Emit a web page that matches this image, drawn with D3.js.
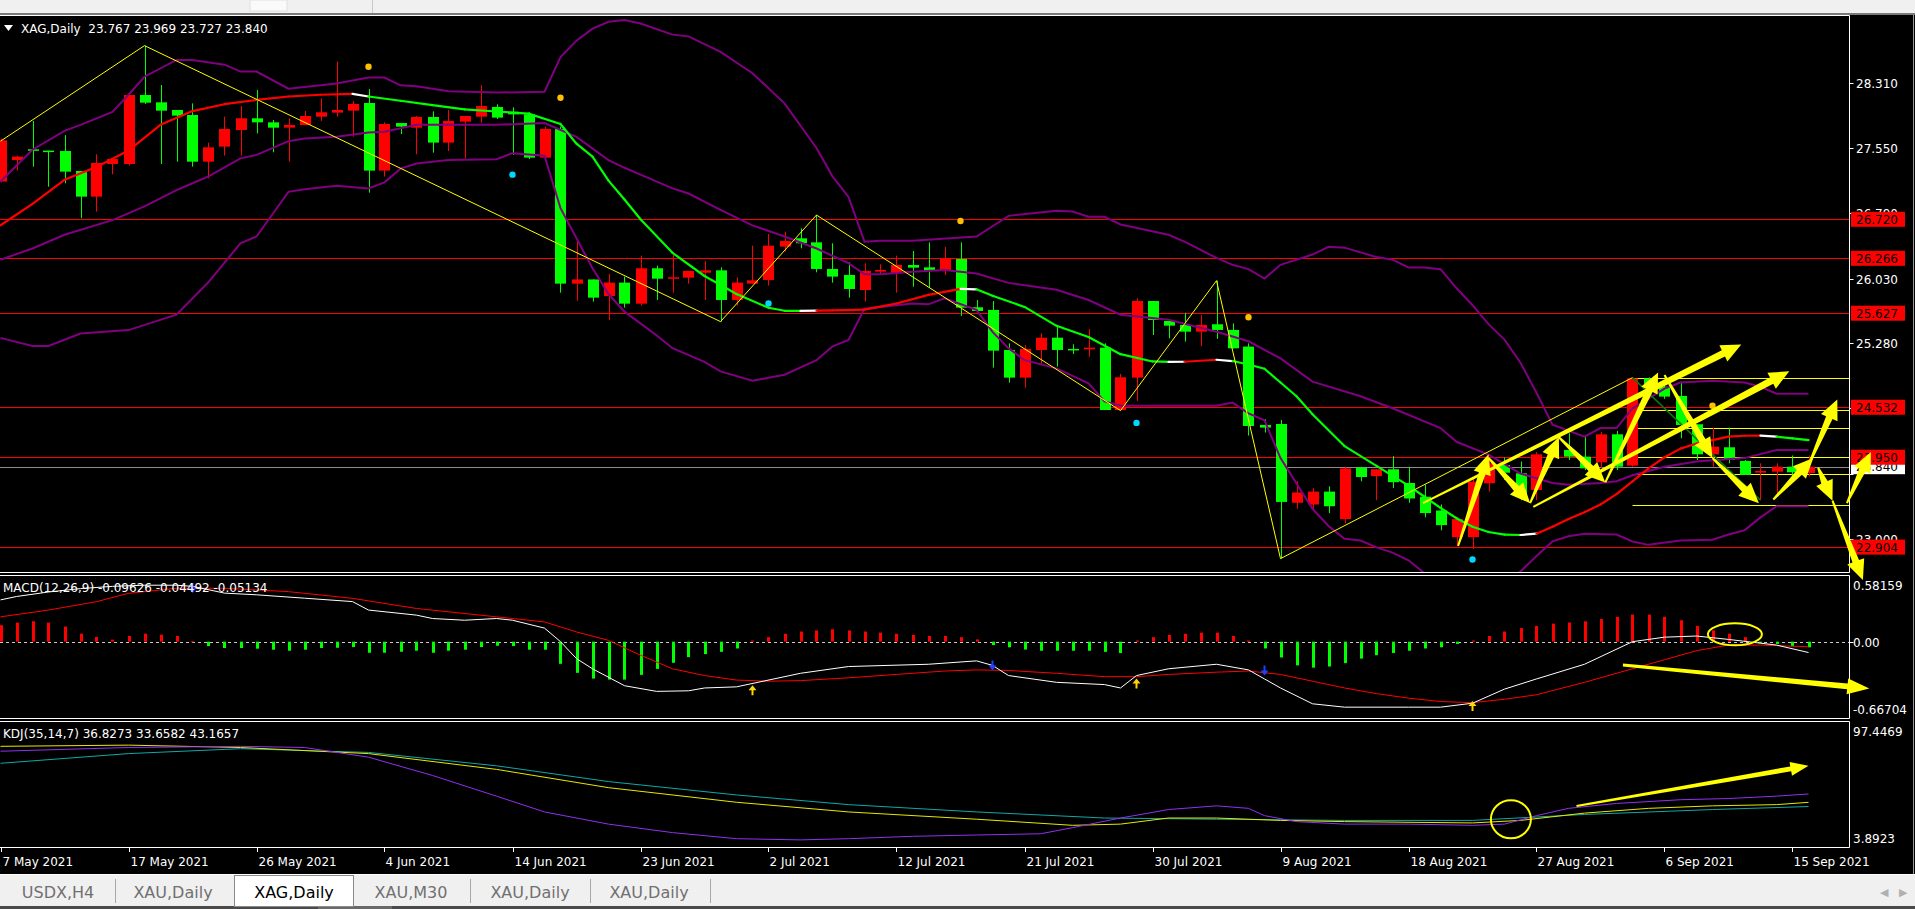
<!DOCTYPE html>
<html><head><meta charset="utf-8">
<script src="https://cdn.jsdelivr.net/npm/d3@7/dist/d3.min.js"></script>
<style>
html,body{margin:0;padding:0;background:#000;overflow:hidden}
svg{display:block}
text{font-family:"DejaVu Sans",Verdana,sans-serif}
</style></head><body>
<svg id="c" width="1915" height="909"></svg>
<script>
// ---------------- DATA ----------------
const dateLabels = ["7 May 2021","17 May 2021","26 May 2021","4 Jun 2021","14 Jun 2021","23 Jun 2021","2 Jul 2021","12 Jul 2021","21 Jul 2021","30 Jul 2021","9 Aug 2021","18 Aug 2021","27 Aug 2021","6 Sep 2021","15 Sep 2021"];
const dateLabelBars = [0,8,16,24,32,40,48,56,64,72,80,88,96,104,112];
const priceTicks = [28.310,27.550,26.790,26.030,25.280,24.520,23.760,23.000];
const hiddenTickLabels = [24.520,23.760];

const opens = [27.16,27.41,27.535,27.52,27.515,27.283,26.984,27.364,27.364,28.167,28.082,27.993,27.935,27.391,27.566,27.76,27.896,27.849,27.787,27.818,
27.915,27.962,27.985,28.074,27.287,27.841,27.787,27.911,27.613,27.857,27.915,28.028,27.973,27.942,27.438,27.772,25.971,26.02,25.827,25.983,
25.738,26.15,26.029,26.041,26.099,26.126,25.781,25.971,26.014,26.402,26.499,26.452,26.142,26.072,25.897,26.111,26.091,26.188,26.161,26.13,
26.258,25.696,25.665,25.199,24.877,25.199,25.342,25.211,25.207,25.226,24.50,24.877,25.769,25.537,25.49,25.412,25.498,25.432,25.238,24.326,
24.337,23.42,23.40,23.55,23.23,23.83,23.73,23.81,23.65,23.49,23.33,23.02,23.02,23.647,23.86,23.763,23.569,23.984,24.035,23.957,
23.891,24.217,23.852,24.869,24.772,24.664,24.334,23.984,24.066,23.907,23.771,23.782,23.84,23.767];
const highs = [27.66,27.46,27.865,27.52,27.70,27.283,27.477,27.422,28.17,28.742,28.284,27.993,28.07,27.612,27.915,28.039,28.226,27.876,27.896,27.981,
28.129,28.555,28.098,28.237,27.849,27.841,27.923,27.977,27.993,27.923,28.284,28.059,28.024,27.966,27.799,27.799,26.468,26.02,26.084,26.053,
26.297,26.181,26.305,26.119,26.235,26.161,26.045,26.413,26.549,26.577,26.615,26.77,26.441,26.219,26.208,26.196,26.297,26.351,26.452,26.398,
26.452,25.781,25.769,25.276,25.257,25.393,25.478,25.265,25.443,25.276,24.92,25.80,25.769,25.548,25.633,25.606,26.006,25.509,25.276,24.392,
24.384,23.67,23.59,23.61,23.84,23.84,23.81,23.965,23.84,23.63,23.40,23.25,23.72,23.942,23.946,23.90,24.01,24.08,24.229,24.20,
24.248,24.256,24.877,24.88,24.83,24.83,24.334,24.295,24.295,23.918,23.88,23.88,23.97,23.969];
const lows = [27.15,27.29,27.333,27.10,27.139,26.732,26.81,27.244,27.345,28.063,27.364,27.391,27.333,27.197,27.461,27.461,27.721,27.50,27.391,27.818,
27.865,27.915,27.682,27.03,27.217,27.713,27.477,27.496,27.515,27.43,27.845,27.888,27.469,27.422,27.438,25.866,25.773,25.762,25.548,25.692,
25.715,25.781,25.866,25.971,25.781,25.529,25.715,25.971,25.948,26.344,26.382,26.103,25.983,25.808,25.762,26.072,25.866,25.936,25.924,26.072,
25.595,25.653,24.993,24.819,24.76,25.024,25.005,25.152,25.121,24.50,24.493,24.605,25.373,25.335,25.296,25.245,25.327,25.218,24.202,24.237,
22.77,23.35,23.33,23.30,23.18,23.67,23.45,23.59,23.42,23.25,23.10,22.92,22.88,23.55,23.685,23.45,23.45,23.95,23.918,23.80,
23.821,23.80,23.84,24.78,24.63,24.171,23.918,23.84,23.88,23.744,23.45,23.50,23.70,23.727];
const closes = [27.64,27.45,27.519,27.508,27.275,26.984,27.376,27.422,28.167,28.078,27.985,27.927,27.391,27.558,27.772,27.896,27.849,27.787,27.818,27.923,
27.966,27.993,28.063,27.287,27.83,27.799,27.911,27.613,27.865,27.923,28.039,27.904,27.942,27.438,27.772,25.971,26.02,25.808,25.983,25.738,
26.15,26.029,26.045,26.119,26.126,25.781,25.983,26.01,26.413,26.468,26.441,26.142,26.053,25.909,26.119,26.13,26.188,26.157,26.119,26.262,
25.692,25.653,25.191,24.877,25.211,25.342,25.199,25.199,25.226,24.50,24.881,25.769,25.548,25.482,25.412,25.49,25.432,25.218,24.314,24.295,
23.43,23.54,23.55,23.38,23.82,23.72,23.81,23.66,23.47,23.30,23.16,23.23,23.666,23.88,23.77,23.51,23.984,24.062,23.957,23.821,
24.217,23.84,24.869,24.80,24.656,24.326,23.984,24.073,23.918,23.744,23.79,23.84,23.775,23.84];

// indicator readings: [bar, value]
const maLine = [[0,26.65],[2,26.90],[4,27.18],[6,27.33],[8,27.52],[10,27.82],[12,27.98],[14,28.06],[16,28.11],[18,28.15],[20,28.17],[22,28.18],[23,28.15],[25,28.10],[27,28.05],[29,28.00],[31,27.975],[33,27.95],[35,27.83],[36,27.60],[37,27.45],[38,27.17],[39,26.95],[40,26.72],[42,26.33],[44,26.06],[46,25.85],[48,25.69],[49,25.655],[50,25.654],[51,25.656],[52,25.66],[54,25.668],[56,25.74],[58,25.84],[60,25.91],[61,25.905],[62,25.83],[64,25.70],[66,25.48],[68,25.35],[70,25.15],[72,25.065],[73,25.06],[74,25.062],[76,25.085],[77,25.07],[78,25.03],[79,24.98],[80,24.82],[81,24.66],[82,24.45],[84,24.08],[86,23.85],[88,23.62],[89,23.49],[90,23.36],[91,23.24],[92,23.14],[93,23.08],[94,23.05],[95,23.045],[96,23.06],[97,23.14],[98,23.23],[99,23.31],[100,23.40],[101,23.52],[102,23.67],[103,23.82],[104,23.95],[105,24.05],[106,24.11],[107,24.15],[108,24.19],[109,24.20],[110,24.202],[111,24.19],[112,24.17],[113,24.15]];
const bbUpper = [[0,27.16],[2,27.53],[4,27.75],[5,27.82],[7,27.97],[8,28.17],[9,28.38],[11,28.575],[12,28.575],[14,28.52],[15,28.44],[16,28.44],[18,28.24],[19,28.26],[21,28.30],[23,28.37],[24,28.37],[25,28.28],[26,28.27],[28,28.21],[31,28.195],[34,28.206],[35,28.61],[36,28.80],[37,28.94],[38,29.02],[39,29.04],[40,29.0],[42,28.87],[43,28.85],[45,28.67],[47,28.42],[49,28.07],[51,27.55],[52,27.22],[53,26.98],[54,26.46],[55,26.47],[57,26.47],[61,26.52],[63,26.76],[66,26.82],[67,26.81],[68,26.75],[69,26.75],[70,26.66],[73,26.54],[74,26.46],[76,26.27],[77,26.19],[78,26.14],[79,26.03],[80,26.19],[82,26.31],[83,26.40],[84,26.39],[86,26.28],[87,26.25],[88,26.16],[89,26.16],[90,26.14],[91,25.92],[92,25.72],[93,25.50],[94,25.32],[95,25.05],[96,24.70],[97,24.33],[99,24.19],[100,24.29],[101,24.29],[102,24.52],[104,24.75],[105,24.82],[107,24.84],[109,24.82],[110,24.77],[111,24.69],[113,24.69]];
const bbMiddle = [[0,26.25],[2,26.38],[4,26.54],[7,26.71],[9,26.87],[11,27.06],[12,27.14],[13,27.22],[15,27.43],[16,27.47],[18,27.63],[19,27.66],[21,27.68],[23,27.73],[24,27.74],[26,27.82],[31,27.82],[34,27.84],[36,27.68],[38,27.41],[39,27.32],[40,27.24],[42,27.08],[43,27.02],[45,26.83],[47,26.65],[49,26.52],[51,26.38],[53,26.21],[54,26.08],[55,26.08],[57,26.11],[59,26.13],[61,26.09],[63,25.98],[66,25.90],[68,25.78],[70,25.61],[73,25.55],[76,25.41],[78,25.30],[80,25.10],[82,24.83],[85,24.66],[87,24.52],[90,24.29],[91,24.13],[93,23.98],[95,23.76],[97,23.65],[98,23.63],[100,23.65],[101,23.67],[102,23.74],[104,23.84],[106,23.90],[109,23.94],[111,24.035],[113,24.035]];
const bbLower = [[0,25.34],[2,25.245],[3,25.245],[5,25.39],[8,25.43],[11,25.61],[13,25.99],[15,26.44],[16,26.52],[18,27.04],[19,27.07],[21,27.11],[23,27.08],[24,27.15],[25,27.31],[26,27.37],[28,27.41],[31,27.42],[32,27.49],[34,27.46],[35,26.85],[36,26.50],[37,26.15],[38,25.85],[39,25.645],[41,25.37],[42,25.22],[44,25.06],[45,24.95],[47,24.84],[49,24.91],[51,25.08],[52,25.24],[53,25.315],[54,25.68],[57,25.74],[58,25.73],[59,25.80],[61,25.665],[62,25.41],[63,25.22],[64,25.08],[66,24.985],[68,24.81],[69,24.60],[70,24.55],[76,24.55],[77,24.586],[78,24.46],[79,24.38],[80,23.94],[82,23.35],[83,23.15],[84,23.0],[85,22.98],[86,22.90],[87,22.84],[88,22.75],[89,22.60],[90,22.45],[91,22.38],[92,22.35],[93,22.40],[94,22.50],[95,22.62],[96,22.80],[97,22.97],[98,23.03],[99,23.06],[101,23.05],[102,22.97],[103,22.93],[105,22.98],[107,22.99],[108,23.05],[109,23.10],[110,23.25],[111,23.38],[113,23.38]];
const zigzag = [[0,27.63],[9,28.742],[45,25.529],[51,26.77],[70,24.493],[76,26.006],[80,22.77],[102,24.877]];
const zigzagLast = [[102,24.877],[110,23.45]];
const fractalUp = [[23,28.496],[35,28.135],[60,26.70],[78,25.58],[107,24.55]];
const fractalDown = [[32,27.24],[48,25.74],[71,24.35],[92,22.76]];
const redLevels = [26.720,26.266,25.627,24.532,23.950,22.904];
const yellowLevels = [24.873,24.50,24.29,23.95,23.76,23.39];
const yellowLevelStart = 102;
const currentPrice = 23.840;

const macdHist = [0.146,0.169,0.181,0.169,0.134,0.071,0.042,0.018,0.05,0.071,0.062,0.05,0.003,-0.039,-0.056,-0.056,-0.062,-0.071,-0.08,-0.071,
-0.056,-0.054,-0.048,-0.098,-0.098,-0.089,-0.08,-0.098,-0.08,-0.071,-0.048,-0.036,-0.039,-0.071,-0.071,-0.196,-0.276,-0.327,-0.336,-0.336,
-0.294,-0.241,-0.187,-0.137,-0.11,-0.09,-0.06,0.01,0.04,0.07,0.09,0.10,0.11,0.10,0.09,0.08,0.07,0.06,0.05,0.05,
0.04,0.02,-0.03,-0.05,-0.07,-0.08,-0.08,-0.08,-0.08,-0.09,-0.10,0.01,0.04,0.06,0.07,0.08,0.08,0.05,0.01,-0.06,
-0.14,-0.21,-0.23,-0.22,-0.19,-0.15,-0.12,-0.10,-0.08,-0.06,-0.05,-0.02,0.01,0.05,0.09,0.12,0.14,0.16,0.17,0.18,
0.20,0.22,0.24,0.24,0.22,0.19,0.14,0.10,0.07,0.04,-0.01,-0.02,-0.04,-0.05];
const macdDif = [[0,0.37],[1,0.40],[3,0.44],[5,0.47],[7,0.49],[9,0.50],[11,0.50],[12,0.49],[14,0.43],[16,0.415],[19,0.385],[22,0.355],[23,0.28],[26,0.235],[27,0.205],[29,0.19],[31,0.205],[32,0.19],[34,0.12],[35,0.0],[36,-0.15],[37,-0.24],[39,-0.39],[41,-0.44],[43,-0.435],[44,-0.41],[46,-0.40],[50,-0.28],[53,-0.22],[58,-0.20],[61,-0.17],[62,-0.21],[63,-0.30],[66,-0.36],[69,-0.38],[70,-0.41],[71,-0.30],[73,-0.24],[76,-0.20],[78,-0.25],[79,-0.33],[80,-0.41],[82,-0.55],[84,-0.58],[88,-0.58],[90,-0.58],[92,-0.545],[94,-0.42],[96,-0.33],[99,-0.20],[102,0.0],[104,0.04],[106,0.05],[108,0.02],[111,-0.03],[113,-0.096]];
const macdDea = [[0,0.22],[3,0.28],[6,0.354],[8,0.428],[11,0.473],[14,0.473],[18,0.443],[22,0.384],[26,0.294],[31,0.22],[34,0.175],[36,0.086],[38,0.012],[40,-0.12],[42,-0.24],[44,-0.30],[46,-0.34],[48,-0.35],[50,-0.345],[53,-0.32],[56,-0.29],[59,-0.26],[61,-0.25],[63,-0.255],[66,-0.28],[69,-0.31],[71,-0.31],[73,-0.29],[76,-0.27],[78,-0.26],[80,-0.29],[82,-0.35],[84,-0.41],[86,-0.46],[88,-0.50],[90,-0.53],[92,-0.54],[94,-0.51],[96,-0.47],[99,-0.36],[102,-0.24],[104,-0.16],[106,-0.08],[108,-0.03],[110,-0.03],[113,-0.045]];
const macdUpMarks = [[47,-0.43],[71,-0.37],[92,-0.57]];
const macdDownMarks = [[12,0.475],[62,-0.21],[79,-0.255]];

const kdjK = [[0,79.1],[8,80.0],[15,78.2],[23,73.6],[31,61.7],[38,47.9],[46,36.9],[53,29.6],[61,24.1],[67,19.5],[70,20.4],[73,25.0],[76,25.0],[80,23.2],[84,22.3],[92,21.3],[95,23.2],[99,28.7],[103,32.3],[107,34.2],[111,35.1],[113,36.83]];
const kdjD = [[0,66.3],[8,73.6],[15,77.3],[23,74.5],[31,64.4],[38,52.5],[46,42.4],[53,35.1],[61,29.6],[69,25.0],[76,24.1],[84,23.2],[92,23.2],[99,27.7],[107,31.4],[113,33.66]];
const kdjJ = [[0,75.4],[8,78.2],[15,79.1],[19,78.2],[23,70.9],[27,57.1],[31,41.5],[34,29.6],[38,20.4],[42,14.0],[46,9.4],[50,8.5],[53,9.4],[57,11.2],[61,12.2],[65,13.1],[67,17.7],[70,25.0],[73,31.4],[76,34.2],[78,32.3],[79,26.8],[81,22.3],[84,20.4],[88,20.4],[92,19.5],[94,20.4],[96,26.8],[98,32.3],[101,36.0],[105,38.8],[108,39.7],[111,41.5],[113,43.17]];

// hand-drawn annotations (bar, price) pairs
const priceArrows = [
 [[88.9,23.415],[108.8,25.264]],
 [[95.8,23.373],[111.8,24.95]],
 [[91.1,22.917],[93.0,23.984]],
 [[93.0,23.941],[95.6,23.415]],
 [[95.6,23.415],[97.4,24.183]],
 [[97.4,24.183],[100.3,23.657]],
 [[100.3,23.657],[103.6,24.937]],
 [[104.0,24.908],[107.0,23.941]],
 [[107.0,23.941],[109.9,23.415]],
 [[110.8,23.458],[113.3,23.941]],
 [[113.0,23.856],[114.8,24.624]],
 [[113.6,23.828],[114.5,23.444]],
 [[114.5,23.444],[116.4,22.52]],
 [[115.4,23.415],[116.9,24.012]]
];
const macdArrow = [[101.4,-0.207],[116.8,-0.414]];
const kdjArrow = [[98.5,34.17],[113.0,64.4]];
const macdEllipse = [108.4,0.065];
const kdjEllipse = [94.4,24.1];
const tabNames = ["USDX,H4","XAU,Daily","XAG,Daily","XAU,M30","XAU,Daily","XAU,Daily"];

// ---------------- DRAW ----------------
const svg = d3.select('#c');
const R = 1849.5;
const x = d3.scaleLinear().domain([0,113]).range([0.5,1808.5]);
const yP = d3.scaleLinear().domain([22.614,29.087]).range([572,16]);
const yM = d3.scaleLinear().domain([-0.66704,0.58159]).range([717,576]);
const yK = d3.scaleLinear().domain([3.8923,97.4469]).range([846,722]);

svg.append('rect').attr('width',1915).attr('height',909).attr('fill','#000');
// top bar
svg.append('rect').attr('width',1915).attr('height',13).attr('fill','#f0f0f0');
svg.append('rect').attr('x',250).attr('y',0).attr('width',37).attr('height',11).attr('fill','#fafafa').attr('stroke','#e0e0e0');
svg.append('line').attr('x1',372.5).attr('x2',372.5).attr('y1',0).attr('y2',13).attr('stroke','#c8c8c8');
svg.append('rect').attr('y',13).attr('width',1915).attr('height',2).attr('fill','#7a7a7a');

const defs = svg.append('defs');
defs.append('clipPath').attr('id','cm').append('rect').attr('x',0).attr('y',16).attr('width',1849).attr('height',556);
defs.append('clipPath').attr('id','cd').append('rect').attr('x',0).attr('y',576).attr('width',1849).attr('height',142);
defs.append('clipPath').attr('id','ck').append('rect').attr('x',0).attr('y',722).attr('width',1849).attr('height',125);

// frames
const frame = svg.append('g').attr('stroke','#fff').attr('stroke-width',1).attr('fill','none');
[[15.5,572.5],[575.5,718.5],[721.5,847.5]].forEach(([t,b])=>{
  frame.append('path').attr('d',`M0,${t}H${R}V${b}H0`);
});
svg.append('line').attr('x1',1913.5).attr('x2',1913.5).attr('y1',15).attr('y2',874).attr('stroke','#9a9a9a');

// ---- main panel
const gm = svg.append('g').attr('clip-path','url(#cm)');
redLevels.forEach(v=>gm.append('line').attr('x1',0).attr('x2',R).attr('y1',Math.round(yP(v))+0.5).attr('y2',Math.round(yP(v))+0.5).attr('stroke','#ff0000'));
yellowLevels.forEach(v=>gm.append('line').attr('x1',x(yellowLevelStart)).attr('x2',R).attr('y1',Math.round(yP(v))+0.5).attr('y2',Math.round(yP(v))+0.5).attr('stroke','#ffff00'));
gm.append('line').attr('x1',0).attr('x2',R).attr('y1',Math.round(yP(currentPrice))+0.5).attr('y2',Math.round(yP(currentPrice))+0.5).attr('stroke','#8c8c8c');

// candles
const cg = gm.append('g');
d3.range(opens.length).forEach(i=>{
  const up = closes[i] >= opens[i];
  const col = up ? '#ff0000' : '#00ff00';
  const cx = Math.round(x(i));
  cg.append('line').attr('x1',cx+0.5).attr('x2',cx+0.5).attr('y1',yP(highs[i])).attr('y2',yP(lows[i])).attr('stroke',col);
  const y1 = yP(Math.max(opens[i],closes[i])), y2 = yP(Math.min(opens[i],closes[i]));
  cg.append('rect').attr('x',cx-5).attr('y',y1).attr('width',11).attr('height',Math.max(1.5,y2-y1)).attr('fill',col);
});

const lineP = d3.line().x(d=>x(d[0])).y(d=>yP(d[1]));
[bbUpper,bbMiddle,bbLower].forEach(a=>gm.append('path').attr('d',lineP(a)).attr('fill','none').attr('stroke','#800080').attr('stroke-width',2));

// colored moving average: red rising, green falling, white at turns
for(let i=1;i<maLine.length;i++){
  const a=maLine[i-1], b=maLine[i];
  const s = Math.sign(b[1]-a[1]);
  const ps = i>1 ? Math.sign(a[1]-maLine[i-2][1]) : s;
  const col = (s!==ps) ? '#ffffff' : (s>0 ? '#ff0000' : '#00ff00');
  gm.append('path').attr('d',lineP([a,b])).attr('fill','none').attr('stroke',col).attr('stroke-width',2.2).attr('stroke-linecap','round');
}
gm.append('path').attr('d',lineP(zigzag)).attr('fill','none').attr('stroke','#ffff00').attr('stroke-width',1);
gm.append('path').attr('d',lineP(zigzagLast)).attr('fill','none').attr('stroke','#0a7a0a').attr('stroke-width',1.5);
fractalUp.forEach(d=>gm.append('circle').attr('cx',x(d[0])).attr('cy',yP(d[1])).attr('r',3.2).attr('fill','#ffc000'));
fractalDown.forEach(d=>gm.append('circle').attr('cx',x(d[0])).attr('cy',yP(d[1])).attr('r',3.2).attr('fill','#00d8ff'));

// label
svg.append('path').attr('d','M4,25L13,25L8.5,31Z').attr('fill','#fff');
svg.append('text').attr('x',21).attr('y',33).attr('fill','#fff').attr('font-size',12).style('white-space','pre')
  .text('XAG,Daily  23.767 23.969 23.727 23.840');

// price axis
const ax = svg.append('g');
priceTicks.forEach(v=>{
  const yy=Math.round(yP(v))+0.5;
  ax.append('line').attr('x1',R).attr('x2',R+4).attr('y1',yy).attr('y2',yy).attr('stroke','#fff');
  if(!hiddenTickLabels.includes(v))
    ax.append('text').attr('x',1856).attr('y',yy+4.5).attr('fill','#fff').attr('font-size',12).text(v.toFixed(3));
});
{
  const yy=yP(currentPrice);
  ax.append('rect').attr('x',1851).attr('y',yy-7.5).attr('width',54).attr('height',15).attr('fill','#fff');
  ax.append('text').attr('x',1856).attr('y',yy+4.5).attr('fill','#000').attr('font-size',12).text(currentPrice.toFixed(3));
}
redLevels.forEach(v=>{
  const yy=yP(v);
  ax.append('rect').attr('x',1851).attr('y',yy-7.5).attr('width',54).attr('height',15).attr('fill','#ff0000');
  ax.append('text').attr('x',1856).attr('y',yy+4.5).attr('fill','#000').attr('font-size',12).text(v.toFixed(3));
});

// ---- MACD panel
const gd = svg.append('g').attr('clip-path','url(#cd)');
gd.append('line').attr('x1',0).attr('x2',R).attr('y1',Math.round(yM(0))+0.5).attr('y2',Math.round(yM(0))+0.5).attr('stroke','#c8c8c8').attr('stroke-dasharray','3,3');
macdHist.forEach((v,i)=>{
  const y0=yM(0), y1=yM(v);
  gd.append('rect').attr('x',Math.round(x(i))-1).attr('y',Math.min(y0,y1)).attr('width',3).attr('height',Math.max(1,Math.abs(y1-y0))).attr('fill',v>=0?'#ff0000':'#00ff00');
});
const lineM = d3.line().x(d=>x(d[0])).y(d=>yM(d[1]));
gd.append('path').attr('d',lineM(macdDea)).attr('fill','none').attr('stroke','#ff0000').attr('stroke-width',1);
gd.append('path').attr('d',lineM(macdDif)).attr('fill','none').attr('stroke','#ffffff').attr('stroke-width',1);
macdUpMarks.forEach(d=>{
  const cx=x(d[0]), cy=yM(d[1]);
  gd.append('path').attr('d',`M${cx},${cy-5}L${cx+4},${cy}L${cx+1},${cy}L${cx+1},${cy+5}L${cx-1},${cy+5}L${cx-1},${cy}L${cx-4},${cy}Z`).attr('fill','#ffd400');
});
macdDownMarks.forEach(d=>{
  const cx=x(d[0]), cy=yM(d[1]);
  gd.append('path').attr('d',`M${cx},${cy+5}L${cx+4},${cy}L${cx+1},${cy}L${cx+1},${cy-5}L${cx-1},${cy-5}L${cx-1},${cy}L${cx-4},${cy}Z`).attr('fill','#2040ff');
});
svg.append('text').attr('x',3).attr('y',592).attr('fill','#fff').attr('font-size',12).text('MACD(12,26,9) -0.09626 -0.04492 -0.05134');
svg.append('text').attr('x',1853).attr('y',590).attr('fill','#fff').attr('font-size',12).text('0.58159');
svg.append('text').attr('x',1853).attr('y',647).attr('fill','#fff').attr('font-size',12).text('0.00');
svg.append('text').attr('x',1853).attr('y',714).attr('fill','#fff').attr('font-size',12).text('-0.66704');
svg.append('line').attr('x1',R).attr('x2',R+4).attr('y1',Math.round(yM(0))+0.5).attr('y2',Math.round(yM(0))+0.5).attr('stroke','#fff');

// ---- KDJ panel
const gk = svg.append('g').attr('clip-path','url(#ck)');
const lineK = d3.line().x(d=>x(d[0])).y(d=>yK(d[1]));
gk.append('path').attr('d',lineK(kdjD)).attr('fill','none').attr('stroke','#10a8a8').attr('stroke-width',1);
gk.append('path').attr('d',lineK(kdjK)).attr('fill','none').attr('stroke','#e8e800').attr('stroke-width',1);
gk.append('path').attr('d',lineK(kdjJ)).attr('fill','none').attr('stroke','#9030f0').attr('stroke-width',1);
svg.append('text').attr('x',3).attr('y',738).attr('fill','#fff').attr('font-size',12).text('KDJ(35,14,7) 36.8273 33.6582 43.1657');
svg.append('text').attr('x',1853).attr('y',736).attr('fill','#fff').attr('font-size',12).text('97.4469');
svg.append('text').attr('x',1853).attr('y',843).attr('fill','#fff').attr('font-size',12).text('3.8923');

// ---- date axis
dateLabelBars.forEach((b,j)=>{
  const xx=Math.round(x(b))+0.5;
  svg.append('line').attr('x1',xx).attr('x2',xx).attr('y1',848).attr('y2',852).attr('stroke','#fff');
  svg.append('text').attr('x',Math.max(0,xx+1)).attr('y',866).attr('fill','#fff').attr('font-size',12).text(dateLabels[j]);
});

// ---- annotations (yellow)
function arrowPath(p1,p2,w0,w1,hl,hw){
  const [x1,y1]=p1,[x2,y2]=p2;
  const dx=x2-x1, dy=y2-y1, L=Math.hypot(dx,dy), ux=dx/L, uy=dy/L, nx=-uy, ny=ux;
  const bx=x2-ux*hl, by=y2-uy*hl;
  const pts=[[x1+nx*w0/2,y1+ny*w0/2],[bx+nx*w1/2,by+ny*w1/2],[bx+nx*hw/2,by+ny*hw/2],[x2,y2],[bx-nx*hw/2,by-ny*hw/2],[bx-nx*w1/2,by-ny*w1/2],[x1-nx*w0/2,y1-ny*w0/2]];
  return 'M'+pts.map(p=>p[0].toFixed(1)+','+p[1].toFixed(1)).join('L')+'Z';
}
const ga = svg.append('g').attr('fill','#ffff00');
priceArrows.forEach(([a,b])=>{
  ga.append('path').attr('d',arrowPath([x(a[0]),yP(a[1])],[x(b[0]),yP(b[1])],2,7,20,18));
});
ga.append('path').attr('d',arrowPath([x(macdArrow[0][0]),yM(macdArrow[0][1])],[x(macdArrow[1][0]),yM(macdArrow[1][1])],3,6,22,16));
ga.append('path').attr('d',arrowPath([x(kdjArrow[0][0]),yK(kdjArrow[0][1])],[x(kdjArrow[1][0]),yK(kdjArrow[1][1])],2,5,18,14));
svg.append('ellipse').attr('cx',x(macdEllipse[0])).attr('cy',yM(macdEllipse[1])).attr('rx',27).attr('ry',11).attr('fill','none').attr('stroke','#ffff00').attr('stroke-width',2);
svg.append('ellipse').attr('cx',x(kdjEllipse[0])).attr('cy',yK(kdjEllipse[1])).attr('rx',20).attr('ry',19).attr('fill','none').attr('stroke','#ffff00').attr('stroke-width',2);

// ---- tab bar
svg.append('rect').attr('y',874).attr('width',1915).attr('height',33).attr('fill','#f0f0f0');
svg.append('line').attr('x1',0).attr('x2',1915).attr('y1',874.5).attr('y2',874.5).attr('stroke','#ffffff');
svg.append('rect').attr('y',906).attr('width',1915).attr('height',3).attr('fill','#4a4a4a');
svg.append('rect').attr('x',318).attr('y',906).attr('width',74).attr('height',3).attr('fill','#6a6a6a');
svg.append('rect').attr('x',234.5).attr('y',875.5).attr('width',119).attr('height',31).attr('fill','#fff').attr('stroke','#8a8a8a');
const tabCenters = [58,173,294,411,530,649];
[115,470,590,710].forEach(xx=>svg.append('line').attr('x1',xx+0.5).attr('x2',xx+0.5).attr('y1',879).attr('y2',903).attr('stroke','#a8a8a8'));
tabNames.forEach((t,j)=>svg.append('text').attr('x',tabCenters[j]).attr('y',898).attr('text-anchor','middle')
  .attr('font-size',16).attr('fill',j===2?'#000':'#707070').text(t));
svg.append('text').attr('x',1880).attr('y',896).attr('font-size',11).attr('fill','#b0b0b0').text('◀');
svg.append('text').attr('x',1899).attr('y',896).attr('font-size',11).attr('fill','#b0b0b0').text('▶');
</script>
</body></html>
